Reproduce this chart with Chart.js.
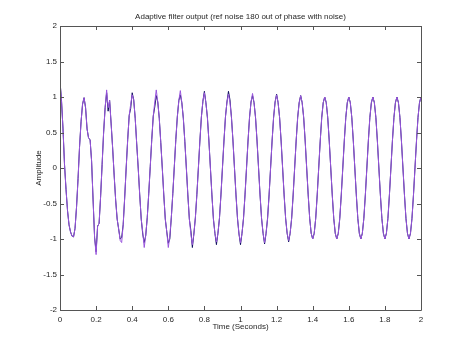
<!DOCTYPE html>
<html>
<head>
<meta charset="utf-8">
<script src="https://cdn.jsdelivr.net/npm/chart.js@4/dist/chart.umd.min.js"></script>
<style>
  html, body { margin: 0; padding: 0; background: #ffffff; }
  #wrap { width: 466px; height: 349px; }
</style>
</head>
<body>
<div id="wrap"><canvas id="c" width="466" height="349"></canvas></div>
<script>
// ---- Data ----
const titleText = 'Adaptive filter output (ref noise 180 out of phase with noise)';
const xLabel = 'Time (Seconds)';
const yLabel = 'Amplitude';
const sampleRate = 120; // samples per second of the read-off series
const xTicks = [0, 0.2, 0.4, 0.6, 0.8, 1, 1.2, 1.4, 1.6, 1.8, 2];
const xTickLabels = ['0', '0.2', '0.4', '0.6', '0.8', '1', '1.2', '1.4', '1.6', '1.8', '2'];
const yTicks = [-2, -1.5, -1, -0.5, 0, 0.5, 1, 1.5, 2];
const yTickLabels = ['-2', '-1.5', '-1', '-0.5', '0', '0.5', '1', '1.5', '2'];

// adaptive filter output (purple)
const filterOutput = [
  1.22, 0.95, 0.55, 0.05, -0.30, -0.60, -0.80, -0.90, -0.96, -0.97, -0.85, -0.55, -0.15, 0.30, 0.65, 0.90,
  0.99, 0.85, 0.55, 0.42, 0.40, 0.10, -0.45, -0.98, -1.22, -0.82, -0.78, -0.40, 0.05, 0.50, 0.85, 1.10,
  0.85, 0.95, 0.62, 0.28, -0.10, -0.45, -0.72, -0.86, -1.02, -1.05, -0.80, -0.42, 0.00, 0.40, 0.74, 0.90,
  1.03, 0.96, 0.70, 0.34, 0.00, -0.38, -0.72, -0.90, -1.12, -0.95, -0.70, -0.36, 0.02, 0.40, 0.73, 0.93,
  1.10, 0.93, 0.70, 0.36, 0.00, -0.38, -0.72, -0.90, -1.12, -0.96, -0.70, -0.36, 0.02, 0.40, 0.72, 0.95,
  1.09, 0.92, 0.70, 0.37, 0.00, -0.38, -0.72, -0.93, -1.08, -0.93, -0.70, -0.37, 0.00, 0.38, 0.72, 0.94,
  1.06, 0.92, 0.71, 0.38, 0.00, -0.38, -0.72, -0.92, -1.04, -0.92, -0.71, -0.38, 0.00, 0.38, 0.72, 0.93,
  1.04, 0.92, 0.71, 0.38, 0.00, -0.38, -0.71, -0.93, -1.05, -0.92, -0.71, -0.38, 0.00, 0.38, 0.71, 0.93,
  1.05, 0.92, 0.71, 0.38, 0.00, -0.38, -0.71, -0.92, -1.05, -0.92, -0.71, -0.38, 0.00, 0.38, 0.71, 0.93,
  1.03, 0.92, 0.71, 0.38, 0.00, -0.38, -0.71, -0.92, -1.02, -0.92, -0.71, -0.38, 0.00, 0.38, 0.71, 0.92,
  1.02, 0.92, 0.71, 0.38, 0.00, -0.38, -0.71, -0.92, -1.00, -0.92, -0.71, -0.38, 0.00, 0.38, 0.71, 0.92,
  1.00, 0.92, 0.71, 0.38, 0.00, -0.38, -0.71, -0.92, -1.00, -0.92, -0.71, -0.38, 0.00, 0.38, 0.71, 0.92,
  1.00, 0.92, 0.71, 0.38, 0.00, -0.38, -0.71, -0.92, -1.00, -0.92, -0.71, -0.38, 0.00, 0.38, 0.71, 0.92,
  1.00, 0.92, 0.71, 0.38, 0.00, -0.38, -0.71, -0.92, -1.00, -0.92, -0.71, -0.38, 0.00, 0.38, 0.71, 0.92,
  1.00, 0.92, 0.71, 0.38, 0.00, -0.38, -0.71, -0.92, -1.00, -0.92, -0.71, -0.38, 0.00, 0.38, 0.71, 0.92,
  1.00
];

// second trace (dark), mostly hidden under the purple one
const referenceTrace = [
  1.22, 0.95, 0.55, 0.05, -0.30, -0.60, -0.80, -0.90, -0.96, -0.97, -0.85, -0.55, -0.15, 0.30, 0.65, 0.90,
  0.99, 0.85, 0.55, 0.42, 0.40, 0.10, -0.45, -0.98, -1.18, -0.82, -0.78, -0.40, 0.05, 0.50, 0.85, 1.06,
  0.80, 0.95, 0.62, 0.28, -0.10, -0.45, -0.72, -0.86, -1.00, -0.98, -0.80, -0.42, 0.00, 0.40, 0.74, 0.84,
  1.06, 0.96, 0.70, 0.34, 0.00, -0.38, -0.72, -0.93, -1.05, -0.95, -0.70, -0.36, 0.02, 0.40, 0.73, 0.86,
  1.02, 0.93, 0.70, 0.36, 0.00, -0.38, -0.72, -0.90, -1.06, -1.00, -0.70, -0.36, 0.02, 0.40, 0.72, 0.95,
  1.03, 0.92, 0.70, 0.37, 0.00, -0.38, -0.72, -0.88, -1.12, -0.93, -0.70, -0.37, 0.00, 0.38, 0.72, 0.94,
  1.08, 0.92, 0.71, 0.38, 0.00, -0.38, -0.72, -0.92, -1.08, -0.92, -0.71, -0.38, 0.00, 0.38, 0.72, 0.93,
  1.08, 0.96, 0.71, 0.38, 0.00, -0.38, -0.71, -0.93, -1.08, -0.92, -0.71, -0.38, 0.00, 0.38, 0.71, 0.93,
  1.02, 0.92, 0.71, 0.38, 0.00, -0.38, -0.71, -0.92, -1.07, -0.92, -0.71, -0.38, 0.00, 0.38, 0.71, 0.93,
  1.04, 0.92, 0.71, 0.38, 0.00, -0.38, -0.71, -0.92, -1.04, -0.92, -0.71, -0.38, 0.00, 0.38, 0.71, 0.92,
  1.02, 0.92, 0.71, 0.38, 0.00, -0.38, -0.71, -0.92, -1.00, -0.92, -0.71, -0.38, 0.00, 0.38, 0.71, 0.92,
  1.00, 0.92, 0.71, 0.38, 0.00, -0.38, -0.71, -0.92, -1.00, -0.92, -0.71, -0.38, 0.00, 0.38, 0.71, 0.92,
  1.00, 0.92, 0.71, 0.38, 0.00, -0.38, -0.71, -0.92, -1.00, -0.92, -0.71, -0.38, 0.00, 0.38, 0.71, 0.92,
  1.00, 0.92, 0.71, 0.38, 0.00, -0.38, -0.71, -0.92, -1.00, -0.92, -0.71, -0.38, 0.00, 0.38, 0.71, 0.92,
  1.00, 0.92, 0.71, 0.38, 0.00, -0.38, -0.71, -0.92, -1.00, -0.92, -0.71, -0.38, 0.00, 0.38, 0.71, 0.92,
  1.00
];

// ---- Build datasets ----
const toPoints = arr => arr.map((v, i) => ({ x: i / sampleRate, y: v }));

const FONT = "'Liberation Sans', Arial, Helvetica, sans-serif";
const TEXT = '#262626';
const AXIS = '#555555';

const frame = {
  id: 'frame',
  afterDatasetsDraw(chart) {
    const { ctx, chartArea: a, scales } = chart;
    ctx.save();
    ctx.strokeStyle = AXIS;
    ctx.lineWidth = 1;
    ctx.beginPath();
    ctx.rect(Math.round(a.left) + 0.5, Math.round(a.top) + 0.5,
             Math.round(a.right) - Math.round(a.left), Math.round(a.bottom) - Math.round(a.top));
    ctx.stroke();
    const L = 4;
    ctx.beginPath();
    xTicks.forEach(v => {
      const px = Math.round(scales.x.getPixelForValue(v)) + 0.5;
      ctx.moveTo(px, a.bottom); ctx.lineTo(px, a.bottom - L);
      ctx.moveTo(px, a.top); ctx.lineTo(px, a.top + L);
    });
    yTicks.forEach(v => {
      const py = Math.round(scales.y.getPixelForValue(v)) + 0.5;
      ctx.moveTo(a.left, py); ctx.lineTo(a.left + L, py);
      ctx.moveTo(a.right, py); ctx.lineTo(a.right - L, py);
    });
    ctx.stroke();
    // title centred over the plot area
    ctx.fillStyle = TEXT;
    ctx.font = "8px " + FONT;
    ctx.textAlign = 'center';
    ctx.textBaseline = 'middle';
    ctx.fillText(titleText, (a.left + a.right) / 2, 16.5);
    ctx.restore();
  }
};

new Chart(document.getElementById('c'), {
  type: 'line',
  data: {
    datasets: [
      { label: 'filter output', data: toPoints(filterOutput), borderColor: '#9955dd',
        borderWidth: 1, pointRadius: 0, tension: 0, fill: false, order: 0 },
      { label: 'reference', data: toPoints(referenceTrace), borderColor: '#10105e',
        borderWidth: 1, pointRadius: 0, tension: 0, fill: false, order: 1 }
    ]
  },
  options: {
    responsive: false,
    animation: false,
    devicePixelRatio: 1,
    layout: { padding: { left: 0, right: 45, top: 26, bottom: 0 } },
    plugins: {
      legend: { display: false },
      tooltip: { enabled: false },
      title: { display: false }
    },
    scales: {
      x: {
        type: 'linear', min: 0, max: 2,
        afterBuildTicks: s => { s.ticks = xTicks.map(v => ({ value: v })); },
        afterFit: s => { s.height = 39; },
        grid: { display: false, drawTicks: false },
        border: { display: false },
        ticks: { color: TEXT, font: { family: FONT, size: 8 }, padding: 5, maxRotation: 0, autoSkip: false,
                 callback: (v, i) => xTickLabels[i] },
        title: { display: true, text: xLabel, color: TEXT,
                 font: { family: FONT, size: 8, lineHeight: 1.2 }, padding: { top: 0, bottom: 17 } }
      },
      y: {
        type: 'linear', min: -2, max: 2,
        afterBuildTicks: s => { s.ticks = yTicks.map(v => ({ value: v })); },
        afterFit: s => { s.width = 60; },
        grid: { display: false, drawTicks: false },
        border: { display: false },
        ticks: { color: TEXT, font: { family: FONT, size: 8 }, padding: 3, autoSkip: false,
                 callback: (v, i) => yTickLabels[i] },
        title: { display: true, text: yLabel, color: TEXT,
                 font: { family: FONT, size: 8, lineHeight: 1.2 }, padding: { top: 33.5, bottom: 0 } }
      }
    }
  },
  plugins: [frame]
});
</script>
</body>
</html>
